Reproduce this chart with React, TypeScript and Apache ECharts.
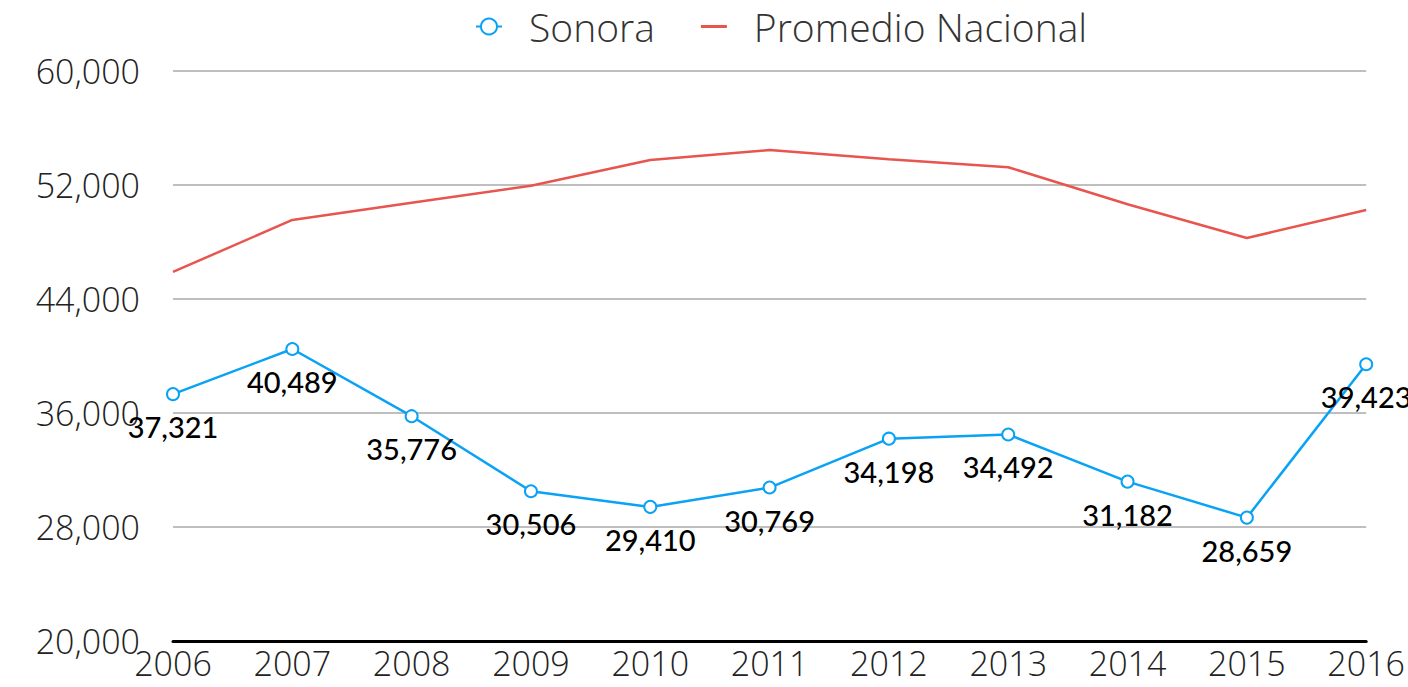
import React, { useEffect, useRef } from "react";
import * as echarts from "echarts";

const years = ["2006", "2007", "2008", "2009", "2010", "2011", "2012", "2013", "2014", "2015", "2016"];
const sonora = [37321, 40489, 35776, 30506, 29410, 30769, 34198, 34492, 31182, 28659, 39423];
const promedio = [45900, 49550, 50750, 51950, 53750, 54450, 53800, 53250, 50650, 48280, 50250];

export default function App() {
  const ref = useRef<HTMLDivElement>(null);
  useEffect(() => {
    if (!ref.current) return;
    const chart = echarts.init(ref.current, undefined, { renderer: "svg" });
    chart.setOption({
      animation: false,
      backgroundColor: "#ffffff",
      legend: {
        top: 2,
        left: 470,
        itemGap: 46,
        itemWidth: 26,
        itemHeight: 20,
        textStyle: {
          fontFamily: "Open Sans",
          fontWeight: 300,
          fontSize: 39,
          color: "#333",
          padding: [0, 0, 0, 22],
        },
        data: [
          { name: "Sonora" },
          { name: "Promedio Nacional", icon: "path://M0,0 L26,0 L26,3 L0,3 Z" },
        ],
      },
      grid: { left: 173, right: 40, top: 71, bottom: 46, containLabel: false },
      xAxis: {
        type: "category",
        boundaryGap: false,
        data: years,
        axisLine: { lineStyle: { color: "#000", width: 3 } },
        axisTick: { show: false },
        axisLabel: {
          fontFamily: "Open Sans",
          fontWeight: 300,
          fontSize: 34,
          color: "#222",
          margin: 5,
        },
      },
      yAxis: {
        type: "value",
        min: 20000,
        max: 60000,
        interval: 8000,
        axisLine: { show: false },
        axisTick: { show: false },
        splitLine: { lineStyle: { color: "#bfbfbf", width: 2 } },
        axisLabel: {
          fontFamily: "Open Sans",
          fontWeight: 300,
          fontSize: 34,
          color: "#222",
          margin: 33,
          formatter: (v: number) => v.toLocaleString("en-US"),
        },
      },
      series: [
        {
          name: "Sonora",
          type: "line",
          data: sonora,
          color: "#0aa2f5",
          lineStyle: { width: 2.5, color: "#0aa2f5" },
          symbol: "emptyCircle",
          symbolSize: 12,
          itemStyle: { color: "#0aa2f5", borderWidth: 4, borderColor: "#0aa2f5" },
          label: {
            show: true,
            position: "bottom",
            distance: 11,
            fontFamily: "Lato",
            fontWeight: 500,
            fontSize: 29,
            color: "#000",
            formatter: (p: any) => Number(p.value).toLocaleString("en-US"),
          },
          z: 3,
        },
        {
          name: "Promedio Nacional",
          type: "line",
          data: promedio,
          color: "#e8554e",
          showSymbol: false,
          symbol: "none",
          lineStyle: { width: 2.5, color: "#e8554e" },
          itemStyle: { color: "#e8554e" },
          z: 2,
        },
      ],
    });
    return () => chart.dispose();
  }, []);
  return (
    <div
      ref={ref}
      style={{ position: "fixed", left: 0, top: 0, width: 1408, height: 687 }}
    />
  );
}
